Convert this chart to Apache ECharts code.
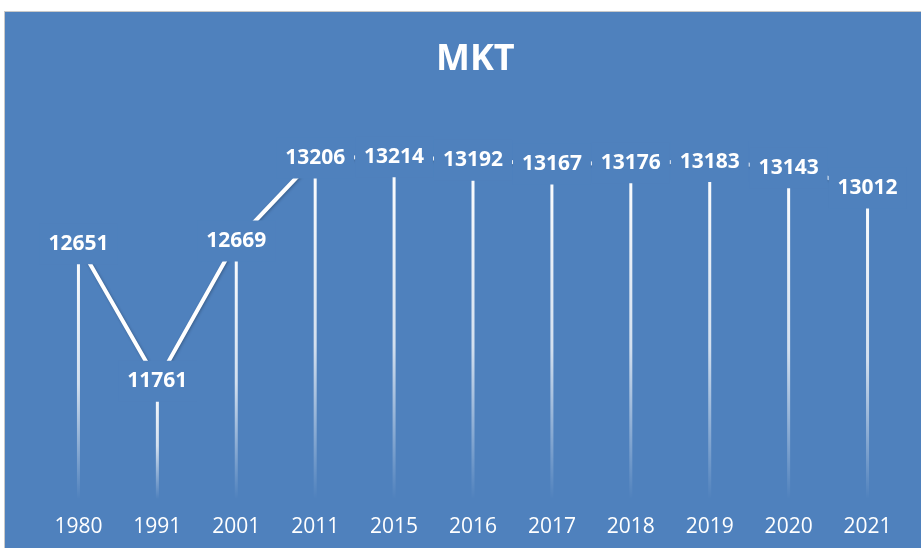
<!DOCTYPE html>
<html>
<head>
<meta charset="utf-8">
<script src="https://cdn.jsdelivr.net/npm/echarts@6/dist/echarts.min.js"></script>
<style>
  html, body { margin: 0; padding: 0; background: #fff; }
  #chart {
    position: absolute; left: 4px; top: 11px;
    width: 917px; height: 537px;
    border-top: 1px solid #c9c9c9; border-left: 1px solid #c9c9c9;
  }
</style>
</head>
<body>
<div id="chart"></div>
<script>
var years = ['1980', '1991', '2001', '2011', '2015', '2016', '2017', '2018', '2019', '2020', '2021'];
var mkt = [12651, 11761, 12669, 13206, 13214, 13192, 13167, 13176, 13183, 13143, 13012];

var bg = '#4F81BD';
var myChart = echarts.init(document.getElementById('chart'));

var option = {
    backgroundColor: bg,
    title: {
        text: 'MKT',
        left: 426,
        top: 25,
        textStyle: {
            fontFamily: 'Open Sans',
            fontSize: 36,
            fontWeight: 'bold',
            color: '#fff'
        }
    },
    grid: {
        top: 116,
        left: 34,
        right: 15,
        bottom: 50
    },
    xAxis: {
        type: 'category',
        data: years,
        axisLine: { show: false },
        axisTick: { show: false },
        axisLabel: {
            color: '#fff',
            fontFamily: 'Open Sans',
            fontSize: 21,
            margin: 18
        }
    },
    yAxis: {
        type: 'value',
        min: 11000,
        max: 13400,
        show: false
    },
    series: [{
        // drop lines
        type: 'bar',
        data: mkt,
        barWidth: 3,
        z: 1,
        silent: true,
        itemStyle: {
            color: new echarts.graphic.LinearGradient(0, 0, 0, 1, [
                { offset: 0, color: 'rgba(255,255,255,1)' },
                { offset: 0.55, color: 'rgba(255,255,255,0.75)' },
                { offset: 1, color: 'rgba(255,255,255,0)' }
            ])
        }
    }, {
        name: 'MKT',
        type: 'line',
        data: mkt,
        z: 3,
        symbol: 'circle',
        symbolSize: 1,
        itemStyle: { color: 'rgba(255,255,255,0)' },
        lineStyle: {
            color: '#fff',
            width: 4,
            shadowColor: 'rgba(0,0,0,0.25)',
            shadowBlur: 3,
            shadowOffsetX: 1,
            shadowOffsetY: 1
        },
        label: {
            show: true,
            position: 'inside',
            color: '#fff',
            fontFamily: 'Open Sans',
            fontWeight: 'bold',
            fontSize: 21,
            backgroundColor: bg,
            padding: [10, 9]
        }
    }]
};
myChart.setOption(option, true);
</script>
</body>
</html>
